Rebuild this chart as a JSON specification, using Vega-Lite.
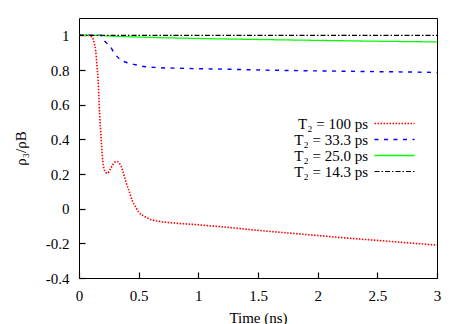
{
  "$schema": "https://vega.github.io/schema/vega-lite/v6.json",
  "width": 358,
  "height": 260,
  "autosize": "none",
  "padding": {"left": 79, "top": 18, "right": 26, "bottom": 46},
  "config": {
    "font": "Liberation Serif",
    "view": {"stroke": "#000000", "strokeWidth": 1},
    "axis": {
      "domain": false,
      "grid": false,
      "labelFont": "Liberation Serif",
      "labelFontSize": 15,
      "labelColor": "#000000",
      "titleFont": "Liberation Serif",
      "titleFontSize": 15,
      "titleFontWeight": "normal",
      "titleColor": "#000000"
    },
    "legend": {
      "labelFont": "Liberation Serif",
      "labelFontSize": 15,
      "labelColor": "#000000"
    }
  },
  "data": {
    "values": [
      {"t": 0, "v": 1, "s": "T₂ = 100 ps"},
      {"t": 0.08, "v": 1, "s": "T₂ = 100 ps"},
      {"t": 0.11, "v": 0.99, "s": "T₂ = 100 ps"},
      {"t": 0.13, "v": 0.95, "s": "T₂ = 100 ps"},
      {"t": 0.14, "v": 0.91, "s": "T₂ = 100 ps"},
      {"t": 0.15, "v": 0.83, "s": "T₂ = 100 ps"},
      {"t": 0.16, "v": 0.74, "s": "T₂ = 100 ps"},
      {"t": 0.173, "v": 0.55, "s": "T₂ = 100 ps"},
      {"t": 0.187, "v": 0.39, "s": "T₂ = 100 ps"},
      {"t": 0.2, "v": 0.27, "s": "T₂ = 100 ps"},
      {"t": 0.215, "v": 0.22, "s": "T₂ = 100 ps"},
      {"t": 0.237, "v": 0.204, "s": "T₂ = 100 ps"},
      {"t": 0.26, "v": 0.225, "s": "T₂ = 100 ps"},
      {"t": 0.28, "v": 0.25, "s": "T₂ = 100 ps"},
      {"t": 0.3, "v": 0.268, "s": "T₂ = 100 ps"},
      {"t": 0.32, "v": 0.272, "s": "T₂ = 100 ps"},
      {"t": 0.335, "v": 0.265, "s": "T₂ = 100 ps"},
      {"t": 0.35, "v": 0.249, "s": "T₂ = 100 ps"},
      {"t": 0.37, "v": 0.21, "s": "T₂ = 100 ps"},
      {"t": 0.39, "v": 0.162, "s": "T₂ = 100 ps"},
      {"t": 0.42, "v": 0.1, "s": "T₂ = 100 ps"},
      {"t": 0.447, "v": 0.046, "s": "T₂ = 100 ps"},
      {"t": 0.475, "v": 0.01, "s": "T₂ = 100 ps"},
      {"t": 0.5, "v": -0.02, "s": "T₂ = 100 ps"},
      {"t": 0.55, "v": -0.045, "s": "T₂ = 100 ps"},
      {"t": 0.6, "v": -0.062, "s": "T₂ = 100 ps"},
      {"t": 0.67, "v": -0.073, "s": "T₂ = 100 ps"},
      {"t": 0.8, "v": -0.083, "s": "T₂ = 100 ps"},
      {"t": 1.0, "v": -0.093, "s": "T₂ = 100 ps"},
      {"t": 1.25, "v": -0.108, "s": "T₂ = 100 ps"},
      {"t": 1.5, "v": -0.125, "s": "T₂ = 100 ps"},
      {"t": 1.75, "v": -0.14, "s": "T₂ = 100 ps"},
      {"t": 2.0, "v": -0.155, "s": "T₂ = 100 ps"},
      {"t": 2.25, "v": -0.17, "s": "T₂ = 100 ps"},
      {"t": 2.5, "v": -0.183, "s": "T₂ = 100 ps"},
      {"t": 2.75, "v": -0.197, "s": "T₂ = 100 ps"},
      {"t": 3.0, "v": -0.21, "s": "T₂ = 100 ps"},
      {"t": 0, "v": 1, "s": "T₂ = 33.3 ps"},
      {"t": 0.18, "v": 1, "s": "T₂ = 33.3 ps"},
      {"t": 0.21, "v": 0.97, "s": "T₂ = 33.3 ps"},
      {"t": 0.24, "v": 0.95, "s": "T₂ = 33.3 ps"},
      {"t": 0.26, "v": 0.936, "s": "T₂ = 33.3 ps"},
      {"t": 0.3, "v": 0.894, "s": "T₂ = 33.3 ps"},
      {"t": 0.344, "v": 0.861, "s": "T₂ = 33.3 ps"},
      {"t": 0.405, "v": 0.842, "s": "T₂ = 33.3 ps"},
      {"t": 0.475, "v": 0.83, "s": "T₂ = 33.3 ps"},
      {"t": 0.545, "v": 0.82, "s": "T₂ = 33.3 ps"},
      {"t": 0.63, "v": 0.815, "s": "T₂ = 33.3 ps"},
      {"t": 0.84, "v": 0.81, "s": "T₂ = 33.3 ps"},
      {"t": 1.2, "v": 0.805, "s": "T₂ = 33.3 ps"},
      {"t": 1.68, "v": 0.798, "s": "T₂ = 33.3 ps"},
      {"t": 2.2, "v": 0.793, "s": "T₂ = 33.3 ps"},
      {"t": 2.79, "v": 0.788, "s": "T₂ = 33.3 ps"},
      {"t": 3.0, "v": 0.786, "s": "T₂ = 33.3 ps"},
      {"t": 0, "v": 1, "s": "T₂ = 25.0 ps"},
      {"t": 0.1, "v": 1, "s": "T₂ = 25.0 ps"},
      {"t": 0.3, "v": 0.995, "s": "T₂ = 25.0 ps"},
      {"t": 0.5, "v": 0.99, "s": "T₂ = 25.0 ps"},
      {"t": 1.0, "v": 0.982, "s": "T₂ = 25.0 ps"},
      {"t": 1.5, "v": 0.976, "s": "T₂ = 25.0 ps"},
      {"t": 2.0, "v": 0.971, "s": "T₂ = 25.0 ps"},
      {"t": 2.5, "v": 0.966, "s": "T₂ = 25.0 ps"},
      {"t": 3.0, "v": 0.962, "s": "T₂ = 25.0 ps"},
      {"t": 0, "v": 1, "s": "T₂ = 14.3 ps"},
      {"t": 3.0, "v": 1, "s": "T₂ = 14.3 ps"}
    ]
  },
  "mark": {"type": "line", "interpolate": "monotone", "clip": true},
  "encoding": {
    "x": {
      "field": "t", "type": "quantitative",
      "scale": {"domain": [0, 3], "nice": false, "zero": false},
      "axis": {"orient": "bottom", "title": "Time (ns)", "values": [0, 0.5, 1, 1.5, 2, 2.5, 3], "labelExpr": "toString(datum.value)", "ticks": true, "tickSize": -6, "tickColor": "#000000", "tickWidth": 1.2, "labelPadding": 16, "titleY": 44, "titleBaseline": "alphabetic", "labelFlush": false}
    },
    "y": {
      "field": "v", "type": "quantitative",
      "scale": {"domain": [-0.4, 1.1], "nice": false, "zero": false},
      "axis": {"orient": "left", "title": "ρ₃/ρB", "values": [-0.4, -0.2, 0, 0.2, 0.4, 0.6, 0.8, 1], "labelExpr": "toString(datum.value)", "ticks": true, "tickSize": -6, "tickColor": "#000000", "tickWidth": 1.2, "labelPadding": 16, "titleX": -59, "titleBaseline": "middle"}
    },
    "color": {
      "field": "s", "type": "nominal",
      "scale": {"domain": ["T₂ = 100 ps", "T₂ = 33.3 ps", "T₂ = 25.0 ps", "T₂ = 14.3 ps"], "range": ["#ff0000", "#0000ff", "#00ff00", "#000000"]},
      "legend": {"title": null, "orient": "none", "legendX": 308, "legendY": 98, "symbolType": "M-5,0H5", "symbolSize": 64, "rowPadding": -0.5, "labelAlign": "right", "labelOffset": -34, "padding": 0, "symbolStrokeWidth": 1.5}
    },
    "strokeDash": {
      "field": "s", "type": "nominal",
      "scale": {"domain": ["T₂ = 100 ps", "T₂ = 33.3 ps", "T₂ = 25.0 ps", "T₂ = 14.3 ps"], "range": [[1.5, 1.5], [4, 5.5], [1, 0], [5, 2, 1.5, 2]]},
      "legend": {"title": null, "orient": "none", "legendX": 308, "legendY": 98, "symbolType": "M-5,0H5", "symbolSize": 64, "rowPadding": -0.5, "labelAlign": "right", "labelOffset": -34, "padding": 0, "symbolStrokeWidth": 1.5}
    },
    "strokeWidth": {
      "field": "s", "type": "nominal",
      "scale": {"domain": ["T₂ = 100 ps", "T₂ = 33.3 ps", "T₂ = 25.0 ps", "T₂ = 14.3 ps"], "range": [1.6, 1.1, 2, 1.2]},
      "legend": null
    }
  }
}
